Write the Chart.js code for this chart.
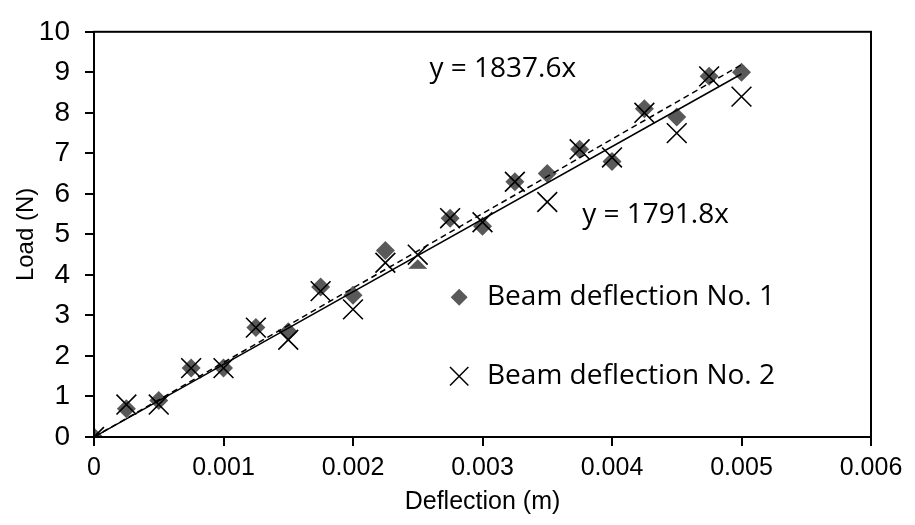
<!DOCTYPE html>
<html><head><meta charset="utf-8">
<script src="https://cdn.jsdelivr.net/npm/chart.js@4.4.1/dist/chart.umd.min.js"></script>
<style>html,body{margin:0;padding:0;background:#fff;}#wrap{width:915px;height:525px;}</style>
</head><body><div id="wrap"><canvas id="c" width="915" height="525"></canvas></div>
<script>
const deflection = [0, 0.00025, 0.0005, 0.00075, 0.001, 0.00125, 0.0015, 0.00175, 0.002, 0.00225, 0.0025,
  0.00275, 0.003, 0.00325, 0.0035, 0.00375, 0.004, 0.00425, 0.0045, 0.00475, 0.005];
const load1 = [0, 0.7, 0.9, 1.7, 1.7, 2.7, 2.6, 3.7, 3.5, 4.6, 4.15, 5.4, 5.2, 6.3, 6.5, 7.1, 6.8, 8.1, 7.9, 8.9, 9.0];
const load2 = [0, 0.8, 0.8, 1.7, 1.7, 2.7, 2.4, 3.6, 3.15, 4.3, 4.5, 5.4, 5.3, 6.3, 5.8, 7.1, 6.9, 8.0, 7.5, 8.9, 8.4];
const seriesNames = ['Beam deflection No. 1', 'Beam deflection No. 2'];
const trendSlopes = [1837.6, 1791.8];
const trendLabels = ['y = 1837.6x', 'y = 1791.8x'];
const trendRange = [0, 0.005];
const xTicks = [0, 0.001, 0.002, 0.003, 0.004, 0.005, 0.006];
const yTicks = [0, 1, 2, 3, 4, 5, 6, 7, 8, 9, 10];
const xTitle = 'Deflection (m)';
const yTitle = 'Load (N)';

const DIAMOND = '#595959';
const TXT = "'Liberation Sans', Arial, sans-serif";
const LBL = "'Open Sans', 'Liberation Sans', sans-serif";

const pts = (ys) => deflection.map((x, i) => ({ x: x, y: ys[i] }));
const trend = (k) => trendRange.map(x => ({ x: x, y: k * x }));

const overlay = {
  id: 'overlay',
  afterDatasetsDraw(chart) {
    const ctx = chart.ctx, a = chart.chartArea;
    const xs = chart.scales.x, ys = chart.scales.y;
    ctx.save();
    ctx.strokeStyle = '#000'; ctx.lineWidth = 2;
    ctx.strokeRect(a.left, a.top, a.right - a.left, a.bottom - a.top);
    // legend box (white, inside plot)
    const lx = xs.getPixelForValue(0.00241), ly = ys.getPixelForValue(4.15);
    const lw = xs.getPixelForValue(0.0056) - lx, lh = ys.getPixelForValue(0.9) - ly;
    ctx.fillStyle = '#fff';
    ctx.fillRect(lx, ly, lw, lh);
    const mx = xs.getPixelForValue(0.00282);
    const tx = xs.getPixelForValue(0.003035);
    const rows = [ys.getPixelForValue(3.45), ys.getPixelForValue(1.5)];
    Chart.helpers.drawPoint(ctx, { pointStyle: 'rectRot', radius: 8.5, rotation: 0, borderWidth: 0 }, mx, rows[0]);
    ctx.fillStyle = DIAMOND; ctx.fill();
    ctx.strokeStyle = '#000'; ctx.lineWidth = 1.5;
    Chart.helpers.drawPoint(ctx, { pointStyle: 'crossRot', radius: 13, rotation: 0, borderWidth: 1.5 }, mx, rows[1]);
    ctx.fillStyle = '#000';
    ctx.font = "28px " + LBL;
    ctx.textBaseline = 'middle'; ctx.textAlign = 'left';
    ctx.fillText(seriesNames[0], tx, rows[0]);
    ctx.fillText(seriesNames[1], tx, rows[1]);
    ctx.fillText(trendLabels[0], xs.getPixelForValue(0.00259), ys.getPixelForValue(9.08));
    ctx.fillText(trendLabels[1], xs.getPixelForValue(0.00377), ys.getPixelForValue(5.48));
    ctx.restore();
  }
};

new Chart(document.getElementById('c'), {
  type: 'scatter',
  data: {
    datasets: [
      { label: trendLabels[0], data: trend(trendSlopes[0]), showLine: true, pointRadius: 0,
        borderColor: '#000', borderWidth: 1.5, borderDash: [6, 4], order: 0 },
      { label: trendLabels[1], data: trend(trendSlopes[1]), showLine: true, pointRadius: 0,
        borderColor: '#000', borderWidth: 1.5, order: 0 },
      { label: seriesNames[1], data: pts(load2), pointStyle: 'crossRot', pointRadius: 14,
        borderColor: '#000', borderWidth: 1.6, backgroundColor: '#000', order: 1 },
      { label: seriesNames[0], data: pts(load1), pointStyle: 'rectRot', pointRadius: 9.5,
        borderWidth: 0, backgroundColor: DIAMOND, borderColor: DIAMOND, order: 2 }
    ]
  },
  options: {
    responsive: false, animation: false, devicePixelRatio: 1,
    layout: { padding: { top: 24, right: 44, left: 0, bottom: 0 } },
    plugins: { legend: { display: false }, tooltip: { enabled: false } },
    scales: {
      x: {
        type: 'linear', min: 0, max: 0.006,
        afterBuildTicks: s => { s.ticks = xTicks.map(v => ({ value: v })); },
        afterFit: s => { s.height = 88; },
        ticks: { callback: v => String(+v.toFixed(3)), color: '#000', padding: 7,
          font: { family: "'Liberation Sans Narrow', " + TXT, size: 25 }, maxRotation: 0, autoSkip: false },
        grid: { drawOnChartArea: false, drawTicks: true, tickLength: 9, tickColor: '#000', lineWidth: 2 },
        border: { display: true, color: '#000', width: 2 },
        title: { display: true, text: xTitle, color: '#000', padding: { top: 4, bottom: 8 },
          font: { family: "'Liberation Sans Narrow', " + TXT, size: 25 } }
      },
      y: {
        type: 'linear', min: 0, max: 10,
        afterBuildTicks: s => { s.ticks = yTicks.map(v => ({ value: v })); },
        afterFit: s => { s.width = 94; },
        ticks: { color: '#000', padding: 15, font: { family: TXT, size: 28 }, autoSkip: false },
        grid: { drawOnChartArea: false, drawTicks: true, tickLength: 9, tickColor: '#000', lineWidth: 2 },
        border: { display: true, color: '#000', width: 2 },
        title: { display: true, text: yTitle, color: '#000', padding: { top: 12, bottom: 0 },
          font: { family: TXT, size: 24 } }
      }
    }
  },
  plugins: [overlay]
});
</script></body></html>
